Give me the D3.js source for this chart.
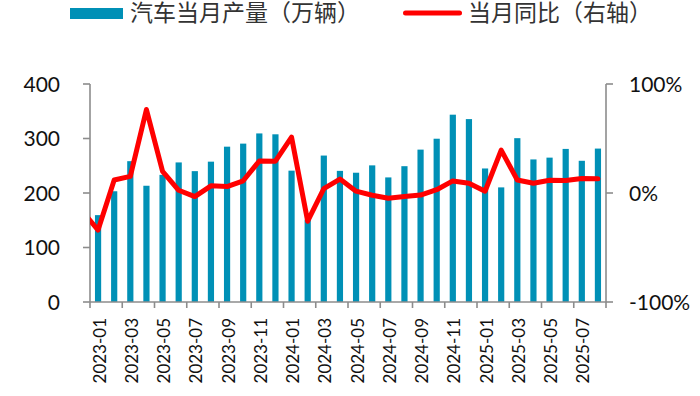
<!DOCTYPE html>
<html><head><meta charset="utf-8">
<script src="https://cdn.jsdelivr.net/npm/d3@7"></script>
<style>body{margin:0;background:#fff}svg{display:block}</style>
</head><body><div id="c"></div>
<script>
const categories = ["2023-01","2023-02","2023-03","2023-04","2023-05","2023-06","2023-07","2023-08","2023-09","2023-10","2023-11","2023-12",
"2024-01","2024-02","2024-03","2024-04","2024-05","2024-06","2024-07","2024-08","2024-09","2024-10","2024-11","2024-12",
"2025-01","2025-02","2025-03","2025-04","2025-05","2025-06","2025-07","2025-08"];
const production = [159.4,203.2,258.4,213.3,233.3,256.1,240.1,257.5,285.0,290.6,309.3,307.7,
241.0,150.9,268.7,240.6,237.2,250.7,228.6,249.2,279.6,299.6,343.7,335.6,
245.0,210.3,300.6,261.6,264.9,280.9,259.1,281.5];
// YoY (%) ; leading value belongs to 2022-12 (clipped at the plot edge)
const leadCategory = "2022-12";
const leadYoy = -16.1;
const yoy = [-34.0,11.9,15.3,76.6,19.8,2.5,-3.3,6.6,5.9,11.2,29.4,29.2,
51.2,-25.9,4.0,12.8,1.7,-2.1,-4.8,-3.2,-1.9,3.0,11.1,9.0,
1.6,39.3,11.9,8.9,11.7,11.4,13.3,13.0];
const leftTicks = [0,100,200,300,400];
const rightTicks = [-1,0,1];
const seriesNames = ["汽车当月产量（万辆）","当月同比（右轴）"];

const W=700,H=396, L=90, R=606, T=84, B=302;
const svg=d3.select("#c").append("svg").attr("width",W).attr("height",H);
const axisColor="#8c8c8c", barColor="#0090b6", lineColor="#ff0000";
const font="Lato, 'Open Sans', sans-serif";

const x=d3.scaleBand().domain(categories).range([L,R]).paddingInner(0).paddingOuter(0);
const yL=d3.scaleLinear().domain([0,400]).range([B,T]);
const yR=d3.scaleLinear().domain([-1,1]).range([B,T]);
const xi=d3.scaleLinear().domain([-0.5,categories.length-0.5]).range([L,R]);

svg.append("defs").append("clipPath").attr("id","clip").append("rect")
  .attr("x",L).attr("y",0).attr("width",R-L).attr("height",H);

// bars
const bw=6.2;
svg.append("g").selectAll("rect").data(production).join("rect")
  .attr("x",(d,i)=>x(categories[i])+x.bandwidth()/2-bw/2)
  .attr("y",d=>yL(d)).attr("width",bw).attr("height",d=>yL(0)-yL(d))
  .attr("fill",barColor);

// axes
const gAx=svg.append("g").attr("stroke",axisColor).attr("stroke-width",1.6).attr("fill","none");
gAx.append("line").attr("x1",L).attr("x2",L).attr("y1",T).attr("y2",B);
gAx.append("line").attr("x1",R).attr("x2",R).attr("y1",T).attr("y2",B);
gAx.append("line").attr("x1",L).attr("x2",R).attr("y1",B).attr("y2",B);
leftTicks.forEach(t=>gAx.append("line").attr("x1",L-7).attr("x2",L).attr("y1",yL(t)).attr("y2",yL(t)));
rightTicks.forEach(t=>gAx.append("line").attr("x1",R).attr("x2",R+7).attr("y1",yR(t)).attr("y2",yR(t)));
categories.forEach((c,i)=>{ if(i%2===0){ gAx.append("line").attr("x1",x(c)).attr("x2",x(c)).attr("y1",B).attr("y2",B+6);} });
gAx.append("line").attr("x1",R).attr("x2",R).attr("y1",B).attr("y2",B+6);

// line
const lineData=[{i:-1,v:leadYoy,c:leadCategory}].concat(yoy.map((v,i)=>({i,v,c:categories[i]})));
svg.append("path").datum(lineData).attr("clip-path","url(#clip)")
  .attr("d",d3.line().x(d=>xi(d.i)).y(d=>yR(d.v/100)))
  .attr("fill","none").attr("stroke",lineColor).attr("stroke-width",5)
  .attr("stroke-linejoin","round").attr("stroke-linecap","round");

// tick labels
const gt=svg.append("g").attr("font-family",font).attr("fill","#111");
leftTicks.forEach(t=>gt.append("text").attr("x",60).attr("y",yL(t)).attr("dy","0.36em")
  .attr("text-anchor","end").attr("font-size",21).text(t));
rightTicks.forEach(t=>gt.append("text").attr("x",629).attr("y",yR(t)).attr("dy","0.36em")
  .attr("text-anchor","start").attr("font-size",21).text(Math.round(t*100)+"%"));
categories.forEach((c,i)=>{ if(i%2===0){
  const cx=x(c)+x.bandwidth()/2+1.5;
  gt.append("text").attr("transform",`translate(${cx},318) rotate(-90)`)
    .attr("text-anchor","end").attr("dy","0.36em").attr("font-size",17).text(c);
}});

// legend
const lg=svg.append("g");
lg.append("rect").attr("x",70).attr("y",8).attr("width",53).attr("height",11).attr("fill",barColor);
lg.append("text").attr("x",130).attr("y",13).attr("dy","0.36em").attr("font-size",23)
  .attr("font-family","'Noto Sans CJK SC', sans-serif").attr("fill","#333").text(seriesNames[0]);
lg.append("line").attr("x1",405.5).attr("x2",459.5).attr("y1",13).attr("y2",13)
  .attr("stroke",lineColor).attr("stroke-width",5).attr("stroke-linecap","round");
lg.append("text").attr("x",468).attr("y",13).attr("dy","0.36em").attr("font-size",23)
  .attr("font-family","'Noto Sans CJK SC', sans-serif").attr("fill","#333").text(seriesNames[1]);
</script></body></html>
